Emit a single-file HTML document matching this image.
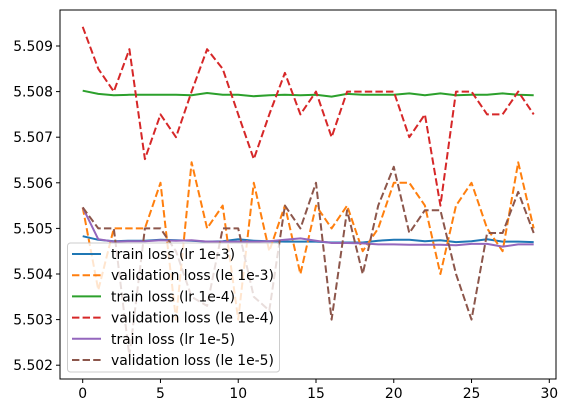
<!DOCTYPE html>
<html><head><meta charset="utf-8"><style>
body{margin:0;background:#fff}
svg{display:block;font-family:"DejaVu Sans","Liberation Sans",sans-serif}
</style></head><body>
<svg id="chart" width="567" height="413">
<rect width="567" height="413" fill="#fff"/>
<g id="series"></g>
<g id="axes"></g>
</svg>
<script>
const epochs=[0,1,2,3,4,5,6,7,8,9,10,11,12,13,14,15,16,17,18,19,20,21,22,23,24,25,26,27,28,29];
const train3=[5.50483,5.50475,5.50472,5.50473,5.50473,5.50475,5.50474,5.50473,5.50471,5.50472,5.50476,5.50473,5.50472,5.50471,5.50471,5.50471,5.50469,5.50469,5.50469,5.50473,5.50475,5.50475,5.50472,5.50474,5.50470,5.50472,5.50476,5.50471,5.50471,5.50470];
const val3=[5.50546,5.50365,5.5050,5.5050,5.5050,5.5060,5.5030,5.50645,5.5050,5.5055,5.5030,5.5060,5.5045,5.5055,5.5040,5.5055,5.5050,5.5055,5.5045,5.5050,5.5060,5.5060,5.5055,5.5040,5.5055,5.5060,5.5050,5.5045,5.50645,5.5050];
const train4=[5.50802,5.50795,5.50792,5.50793,5.50793,5.50793,5.50793,5.50792,5.50797,5.50793,5.50793,5.50790,5.50792,5.50793,5.50792,5.50793,5.50789,5.50795,5.50793,5.50793,5.50793,5.50796,5.50792,5.50796,5.50792,5.50793,5.50793,5.50796,5.50793,5.50792];
const val4=[5.50942,5.5085,5.5080,5.50893,5.50652,5.5075,5.5070,5.5080,5.50893,5.5085,5.5075,5.50652,5.5075,5.50841,5.5075,5.5080,5.5070,5.5080,5.5080,5.5080,5.5080,5.5070,5.5075,5.5055,5.5080,5.5080,5.5075,5.5075,5.5080,5.5075];
const train5=[5.50546,5.50476,5.50471,5.50472,5.50472,5.50474,5.50473,5.50474,5.50471,5.50471,5.50471,5.50471,5.50472,5.50475,5.50478,5.50473,5.50468,5.50468,5.50467,5.50465,5.50465,5.50464,5.50464,5.50464,5.50463,5.50466,5.50466,5.50460,5.50465,5.50465];
const val5=[5.50546,5.5050,5.5050,5.5022,5.5050,5.5050,5.5045,5.5035,5.5033,5.5050,5.5050,5.5035,5.5032,5.5055,5.5050,5.5060,5.5030,5.5054,5.5040,5.5055,5.50635,5.5049,5.5054,5.5054,5.5040,5.5030,5.5049,5.5049,5.5058,5.5049];
const yTicks=[5.502,5.503,5.504,5.505,5.506,5.507,5.508,5.509];
const xTicks=[0,5,10,15,20,25,30];
const labels=["train loss (lr 1e-3)","validation loss (le 1e-3)","train loss (lr 1e-4)","validation loss (le 1e-4)","train loss (lr 1e-5)","validation loss (le 1e-5)"];

const L=60,R=556,T=10,B=379;
const xs=v=>82.7+v*(549.3-82.7)/30;
const ys=v=>228.4-(v-5.505)*45600;
const NS="http://www.w3.org/2000/svg";
function mk(tag,attrs,parent){const e=document.createElementNS(NS,tag);for(const k in attrs)e.setAttribute(k,attrs[k]);parent.appendChild(e);return e;}
const sg=document.getElementById('series'), ag=document.getElementById('axes');
const defs=[[train3,'#1f77b4',false,'series-train-lr1e-3'],[val3,'#ff7f0e',true,'series-val-lr1e-3'],[train4,'#2ca02c',false,'series-train-lr1e-4'],[val4,'#d62728',true,'series-val-lr1e-4'],[train5,'#9467bd',false,'series-train-lr1e-5'],[val5,'#8c564b',true,'series-val-lr1e-5']];
defs.forEach(([d,c,dash,nm])=>{
  const p=mk('polyline',{points:d.map((v,i)=>xs(epochs[i]).toFixed(1)+','+ys(v).toFixed(1)).join(' '),fill:'none',stroke:c,'stroke-width':2,'stroke-dasharray':dash?'7.4,3.2':'none','stroke-linejoin':'round'},sg);
  
  
});
const fr=mk('rect',{x:L,y:T,width:R-L,height:B-T,fill:'none',stroke:'#000','stroke-width':1},ag);


xTicks.forEach(t=>{
  const x=xs(t);
  mk('line',{x1:x,x2:x,y1:B,y2:B+4,stroke:'#000'},ag);
  const tx=mk('text',{x:x,y:B+19,'text-anchor':'middle','font-size':'13.9px',fill:'#000'},ag);
  tx.textContent=t;
  
  
});
yTicks.forEach(t=>{
  const y=ys(t);
  mk('line',{x1:L-4,x2:L,y1:y,y2:y,stroke:'#000'},ag);
  const tx=mk('text',{x:L-7,y:y+5,'text-anchor':'end','font-size':'13.9px',fill:'#000'},ag);
  tx.textContent=t.toFixed(3);
  
  
});
const lg=mk('g',{},ag);


mk('rect',{x:67.5,y:243,width:212,height:129,rx:3,fill:'#fff','fill-opacity':0.8,stroke:'#ccc'},lg);
labels.forEach((l,i)=>{
  const y=254+i*21.2;
  const [d,c,dash]=defs[i];
  mk('line',{x1:72,x2:101,y1:y,y2:y,stroke:c,'stroke-width':2,'stroke-dasharray':dash?'7.4,3.2':'none'},lg);
  const tx=mk('text',{x:111,y:y+5,'font-size':'13.9px',fill:'#000'},lg);
  tx.textContent=l;
  
  
});
</script>
</body></html>
